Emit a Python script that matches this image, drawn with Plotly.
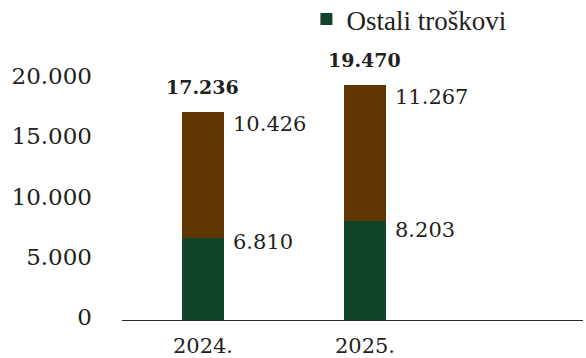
import plotly.graph_objects as go

# Stacked cost bars per year
years = ["2024.", "2025."]
ostali = [6810, 8203]          # bottom segment (green)
ostalo_gornje = [10426, 11267]  # top segment (brown)
totals = [17236, 19470]
y_ticks = [0, 5000, 10000, 15000, 20000]

GREEN = "#12432b"
BROWN = "#5f3600"
INK = "#231f20"
SERIF = "DejaVu Serif"

# per-label vertical nudges (pixels) for the value labels
green_shift = [-4, -9]
brown_shift = [-12, -12]


def fmt(v):
    return f"{v:,}".replace(",", ".")


fig = go.Figure()
fig.add_trace(go.Bar(
    x=years, y=ostali, name="Ostali troškovi",
    marker=dict(color=GREEN, line=dict(width=0)),
    width=0.26, hoverinfo="skip",
))
fig.add_trace(go.Bar(
    x=years, y=ostalo_gornje, name="Troškovi",
    marker=dict(color=BROWN, line=dict(width=0)),
    width=0.26, showlegend=False, hoverinfo="skip",
))

annotations = []
for i in range(len(years)):
    annotations.append(dict(
        x=i, y=ostali[i], xref="x", yref="y", text=fmt(ostali[i]),
        showarrow=False, xanchor="left", yanchor="middle",
        xshift=28, yshift=green_shift[i],
        font=dict(family=SERIF, size=21, color=INK),
    ))
    annotations.append(dict(
        x=i, y=totals[i], xref="x", yref="y", text=fmt(ostalo_gornje[i]),
        showarrow=False, xanchor="left", yanchor="middle",
        xshift=28, yshift=brown_shift[i],
        font=dict(family=SERIF, size=21, color=INK),
    ))
    annotations.append(dict(
        x=i, y=totals[i], xref="x", yref="y", text=f"<b>{fmt(totals[i])}</b>",
        showarrow=False, xanchor="center", yanchor="middle",
        yshift=25,
        font=dict(family=SERIF, size=19, color=INK),
    ))

fig.update_layout(
    width=586, height=358,
    margin=dict(l=122, r=3, t=60, b=38, autoexpand=False),
    barmode="stack",
    plot_bgcolor="white", paper_bgcolor="white",
    separators=",.",
    showlegend=True,
    legend=dict(
        x=0.40, y=1.25, xanchor="left", yanchor="top",
        orientation="h",
        font=dict(family="Liberation Serif", size=27, color=INK),
        bgcolor="rgba(0,0,0,0)",
    ),
    annotations=annotations,
    xaxis=dict(
        type="category", range=[-0.5, 2.346],
        showline=True, linecolor="#2b2b2b", linewidth=1,
        showgrid=False, zeroline=False, ticks="",
        tickfont=dict(family=SERIF, size=21, color=INK),
        ticklabelstandoff=7, automargin=False,
    ),
    yaxis=dict(
        range=[0, 21577],
        tickvals=y_ticks, tickformat=",d",
        showline=False, showgrid=False, zeroline=False, ticks="",
        tickfont=dict(family=SERIF, size=23, color=INK),
        ticklabelstandoff=29, ticklabelshift=-3, automargin=False,
    ),
)

fig.write_html("out.html")
